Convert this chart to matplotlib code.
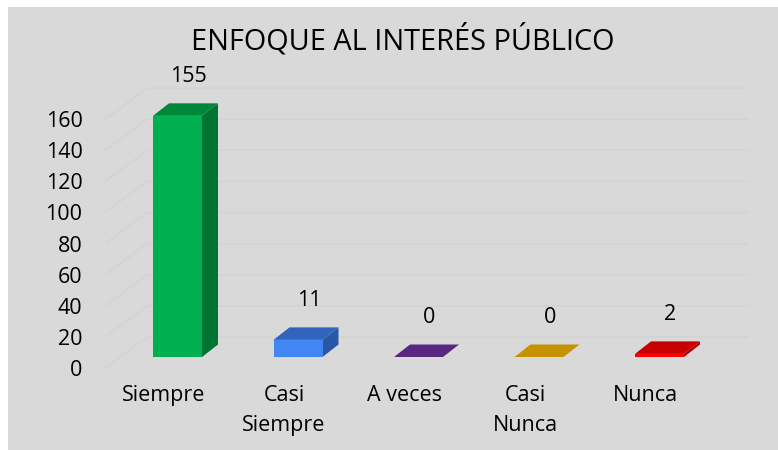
import matplotlib
matplotlib.use("Agg")
import matplotlib.pyplot as plt
from matplotlib.patches import Polygon
from matplotlib.transforms import ScaledTranslation

plt.rcParams["font.family"] = ["Open Sans", "DejaVu Sans"]

# Chart data
categories = ["Siempre", "Casi\nSiempre", "A veces", "Casi\nNunca", "Nunca"]
values = [155, 11, 0, 0, 2]
y_ticks = [0, 20, 40, 60, 80, 100, 120, 140, 160]
title = "ENFOQUE AL INTERÉS PÚBLICO"

# Face colours per bar: front, side, top
front_colors = ["#00b050", "#4286f4", "#5c2a85", "#c99600", "#ff0000"]
side_colors = ["#007430", "#2a56a8", "#4a2070", "#a87c00", "#b00000"]
top_colors = ["#00873a", "#3164bd", "#5a267f", "#c59300", "#c80000"]

W, H, DPI = 778, 450, 100
fig = plt.figure(figsize=(W / DPI, H / DPI), dpi=DPI)
fig.patch.set_facecolor("white")

# grey chart area
bg = fig.add_axes([8 / W, 0, 1 - 8 / W, 1 - 7 / H])
bg.set_facecolor("#d9d9d9")
bg.set_xticks([])
bg.set_yticks([])
for s in bg.spines.values():
    s.set_visible(False)
bg.set_zorder(0)

# plotting plane of the bar fronts (pixel layout)
cat_px = 120.5
x0_px = 177.5 - 0.5 * cat_px
y0_px = 357
ymax = 160
unit_px = 1.556
ax = fig.add_axes([x0_px / W, (H - y0_px) / H,
                   5 * cat_px / W, ymax * unit_px / H])
ax.set_zorder(1)
ax.patch.set_visible(False)
ax.set_xlim(-0.5, 4.5)
ax.set_ylim(0, ymax)
for s in ax.spines.values():
    s.set_visible(False)

px_x = 1 / cat_px     # data units per pixel, horizontal
px_y = 1 / unit_px    # data units per pixel, vertical

# wall gridlines: diagonal side wall and horizontal back wall
xf = -0.5 - 12 * px_x
xb = -0.5 + 30 * px_x
xe = -0.5 + (749 - x0_px) * px_x
for v in y_ticks:
    ax.plot([xf, xb, xe], [v - 11 * px_y, v + 20 * px_y, v + 20 * px_y],
            color="#d3d3d3", lw=1.0, zorder=1, clip_on=False,
            solid_capstyle="butt")

# 3D-looking bars
bw = 49 * px_x
dx = 16 * px_x
dy = 12.5 * px_y
for i, v in enumerate(values):
    l, r = i - bw / 2, i + bw / 2
    ax.add_patch(Polygon([(r, 0), (r + dx, dy), (r + dx, v + dy), (r, v)],
                         closed=True, facecolor=side_colors[i],
                         edgecolor="none", zorder=3, clip_on=False))
    ax.add_patch(Polygon([(l, v), (r, v), (r + dx, v + dy), (l + dx, v + dy)],
                         closed=True, facecolor=top_colors[i],
                         edgecolor="none", zorder=3, clip_on=False))
    if v > 0:
        ax.bar(i, v, width=bw, color=front_colors[i], zorder=4,
               clip_on=False, linewidth=0)
    ax.annotate(str(v), (i + dx / 2, v + dy), xytext=(3, 27),
                textcoords="offset pixels", ha="center", va="center",
                fontsize=15.5, color="#000000", zorder=5,
                annotation_clip=False)

# category labels
ax.set_xticks(range(len(categories)))
ax.set_xticklabels(categories, fontsize=15.5, linespacing=1.55)
ax.tick_params(axis="x", length=0, pad=20)
shift_x = ScaledTranslation(-14 / DPI, 0, fig.dpi_scale_trans)
for lab in ax.get_xticklabels():
    lab.set_transform(lab.get_transform() + shift_x)

# value axis labels on the front edge
ax.set_yticks(y_ticks)
ax.set_yticklabels([str(t) for t in y_ticks], fontsize=15.5)
ax.tick_params(axis="y", length=0, pad=25)
shift_y = ScaledTranslation(0, -11 / DPI, fig.dpi_scale_trans)
for lab in ax.get_yticklabels():
    lab.set_transform(lab.get_transform() + shift_y)

fig.text(403 / W, 1 - 40 / H, title, ha="center", va="center",
         fontsize=20.8, color="#000000")

fig.savefig("out.png", dpi=DPI)
